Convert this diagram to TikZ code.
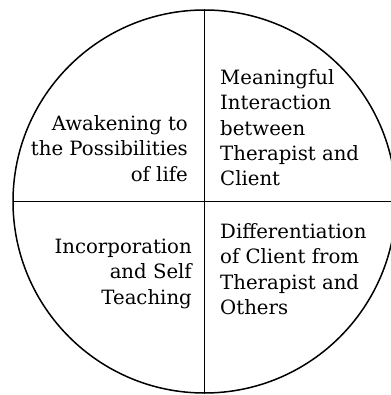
\documentclass[tikz,border=0pt]{standalone}
\usepackage{fontspec}
\setmainfont{DejaVu Serif}
\usetikzlibrary{positioning}
\tikzset{quarter/.style={inner sep=0pt, font=\fontsize{19.7}{25.2}\selectfont}}
\begin{document}
\begin{tikzpicture}[x=1pt,y=-1pt]
	\useasboundingbox (0,0) rectangle (390,395);
	\coordinate (mid) at (204.5,201.5);
	\coordinate (top) at (204.5,10);
	\coordinate (bottom) at (204.5,393);
	\coordinate (west) at (13,201.5);
	\coordinate (east) at (396,201.5);

	\draw[line width=1.5pt] (mid) circle (191.5pt);
	\draw[line width=1.9pt] (top) -- (bottom);
	\draw[line width=1.9pt] (west) -- (east);

	\node[quarter, align=right, anchor=base east] (awaken) at (188,181) {Awakening to\\the Possibilities\\of life};
	\node[quarter, align=left, anchor=base west] (meaning) at (220,185.5) {Meaningful\\Interaction\\between\\Therapist and\\Client};
	\node[quarter, align=right, anchor=base east] (incorp) at (192,304) {Incorporation\\and Self\\Teaching};
	\node[quarter, align=left, anchor=base west] (differ) at (220,314.3) {Differentiation\\of Client from\\Therapist and\\Others};
\end{tikzpicture}
\end{document}
